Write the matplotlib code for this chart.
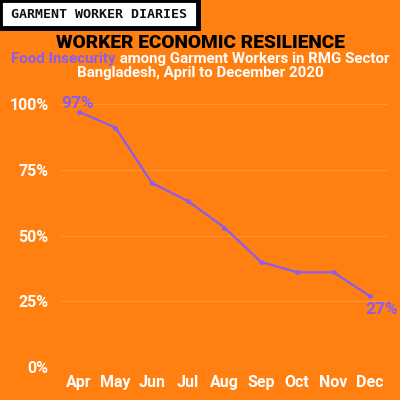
import matplotlib.pyplot as plt
from matplotlib.patches import Rectangle

months = ['Apr', 'May', 'Jun', 'Jul', 'Aug', 'Sep', 'Oct', 'Nov', 'Dec']
food_insecurity = [97, 91, 70, 63, 53, 40, 36, 36, 27]
yticks = [0, 25, 50, 75, 100]

orange = '#FF7F11'
purple = '#8A5CF0'
grid_col = '#FF9433'

plt.rcParams['font.family'] = ['Roboto', 'DejaVu Sans']

fig = plt.figure(figsize=(4, 4), dpi=100, facecolor=orange)
ax = fig.add_axes([0.1525, 0.0825, 0.8175, 0.6575])
ax.set_facecolor(orange)

x = range(len(months))
ax.plot(x, food_insecurity, color=purple, lw=1.6, marker='o', ms=2.5)
ax.set_xlim(-0.5, len(months) - 0.5)
ax.set_ylim(0, 100)
ax.set_yticks(yticks)
ax.set_yticklabels([f'{v}%' for v in yticks])
ax.set_xticks(list(x))
ax.set_xticklabels(months)
ax.tick_params(length=0, colors='white', labelsize=11.5, pad=6)
ax.tick_params(axis='y', pad=9)
for lab in ax.get_xticklabels() + ax.get_yticklabels():
    lab.set_fontweight('bold')
ax.grid(axis='y', color=grid_col, lw=0.8)
ax.grid(axis='x', visible=False)
for s in ax.spines.values():
    s.set_visible(False)

ax.annotate(f'{food_insecurity[0]}%', (0, food_insecurity[0]), xytext=(-13, 1),
            textcoords='offset points', color=purple, fontsize=12.5, fontweight='bold',
            ha='left', va='bottom')
ax.annotate(f'{food_insecurity[-1]}%', (8, food_insecurity[-1]), xytext=(-3, -4),
            textcoords='offset points', color=purple, fontsize=12.5, fontweight='bold',
            ha='left', va='top')

# header box
fig.patches.append(Rectangle((0, 1 - 28 / 400), 198 / 400, 28 / 400, transform=fig.transFigure,
                             facecolor='white', edgecolor='black', lw=3.5))
fig.text(0.2475, 1 - 14 / 400, 'GARMENT WORKER DIARIES', ha='center', va='center',
         fontsize=9.6, fontweight='bold', color='#111111', family='DejaVu Sans Mono')

fig.text(0.5, 1 - 43 / 400, 'WORKER ECONOMIC RESILIENCE', ha='center', va='center',
         fontsize=13.8, fontweight='black', color='black')

# subtitle line 1: purple lead-in + white rest
sub_a = 'Food Insecurity'
sub_b = ' among Garment Workers in RMG Sector'
ta = fig.text(0, 1 - 59 / 400, sub_a, ha='left', va='center', fontsize=10.8,
              fontweight='bold', color=purple)
tb = fig.text(0, 1 - 59 / 400, sub_b, ha='left', va='center', fontsize=10.8,
              fontweight='bold', color='white')
r = fig.canvas.get_renderer()
wa = ta.get_window_extent(r).width / 400
wb = tb.get_window_extent(r).width / 400
start = 0.5 - (wa + wb) / 2
ta.set_x(start)
tb.set_x(start + wa)
fig.text(0.5, 1 - 73 / 400, 'Bangladesh, April to December 2020',
         ha='center', va='center', fontsize=10.8, fontweight='bold', color='white')

fig.savefig('out.png', dpi=100, facecolor=orange)
